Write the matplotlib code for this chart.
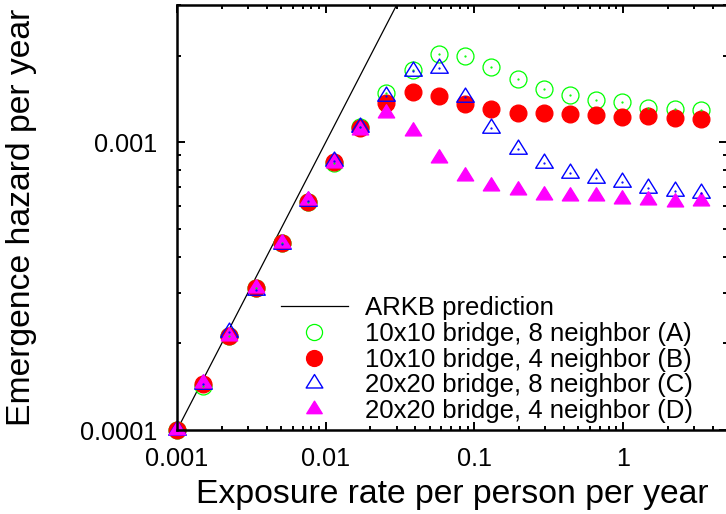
#%%
import numpy as np
import matplotlib
matplotlib.use('Agg')
from matplotlib import pyplot as plt
from matplotlib.path import Path
from matplotlib.ticker import FixedLocator, LogLocator, NullFormatter

plt.rcParams['font.family'] = ['Liberation Sans', 'DejaVu Sans']

#%%
exposure = [0.001, 0.0015, 0.00225, 0.00338, 0.00506, 0.00759, 0.0114, 0.0171,
            0.0256, 0.0384, 0.0577, 0.0865, 0.130, 0.195, 0.292, 0.438, 0.657,
            0.985, 1.48, 2.22, 3.33]

hazardA = [1.0e-4, 1.42e-4, 2.12e-4, 3.11e-4, 4.45e-4, 6.22e-4, 8.50e-4, 1.134e-3,
           1.48e-3, 1.783e-3, 2.022e-3, 2.001e-3, 1.832e-3, 1.660e-3, 1.532e-3,
           1.460e-3, 1.403e-3, 1.377e-3, 1.320e-3, 1.302e-3, 1.291e-3]
hazardB = [1.0e-4, 1.445e-4, 2.13e-4, 3.11e-4, 4.46e-4, 6.22e-4, 8.57e-4, 1.119e-3,
           1.366e-3, 1.500e-3, 1.449e-3, 1.359e-3, 1.302e-3, 1.265e-3, 1.261e-3,
           1.258e-3, 1.247e-3, 1.221e-3, 1.234e-3, 1.218e-3, 1.205e-3]
hazardC = [1.0e-4, 1.44e-4, 2.19e-4, 3.07e-4, 4.43e-4, 6.25e-4, 8.6e-4, 1.134e-3,
           1.453e-3, 1.770e-3, 1.807e-3, 1.441e-3, 1.119e-3, 9.45e-4, 8.45e-4,
           7.84e-4, 7.54e-4, 7.30e-4, 6.94e-4, 6.79e-4, 6.68e-4]
hazardD = [1.0e-4, 1.46e-4, 2.13e-4, 3.11e-4, 4.46e-4, 6.3e-4, 8.5e-4, 1.107e-3,
           1.265e-3, 1.092e-3, 8.80e-4, 7.62e-4, 7.07e-4, 6.85e-4, 6.58e-4,
           6.53e-4, 6.51e-4, 6.35e-4, 6.32e-4, 6.22e-4, 6.27e-4]

# ARKB prediction (straight line in log-log)
arkbX = [0.001, 0.03]
arkbY = [0.0001, 0.003]

labels = ['ARKB prediction',
          '10x10 bridge, 8 neighbor (A)',
          '10x10 bridge, 4 neighbor (B)',
          '20x20 bridge, 8 neighbor (C)',
          '20x20 bridge, 4 neighbor (D)']

#%%
# triangle with its centroid at the origin (like gnuplot's)
tri = Path([(0, 2/3), (-0.62, -1/3), (0.62, -1/3), (0, 2/3)],
           [Path.MOVETO, Path.LINETO, Path.LINETO, Path.CLOSEPOLY])

fig = plt.figure(figsize=(7.26, 5.14), dpi=100)
ax = fig.add_axes([177/726, 84/514, 550/726, 425/514])

ax.plot(arkbX, arkbY, color='black', lw=0.9, label=labels[0])
ax.plot(exposure, hazardA, ls='none', marker='o', ms=12.2, mfc='none', mec='#00ff00', mew=0.9, label=labels[1], clip_on=False)
ax.plot(exposure, hazardB, ls='none', marker='o', ms=12.0, mfc='#ff0000', mec='#ff0000', label=labels[2], clip_on=False)
ax.plot(exposure, hazardC, ls='none', marker=tri, ms=13.6, mfc='none', mec='#0000ff', mew=1.0, label=labels[3], clip_on=False)
ax.plot(exposure, hazardD, ls='none', marker=tri, ms=12.6, mfc='#ff00ff', mec='#ff00ff', label=labels[4], clip_on=False)
# small centre dots of the open symbols
ax.plot(exposure, hazardA, ls='none', marker='.', ms=1.2, color='#00ff00')
ax.plot(exposure, hazardC, ls='none', marker='.', ms=1.2, color='#0000ff')

ax.set_xscale('log')
ax.set_yscale('log')
ax.set_xlim(0.001, 5)
ax.set_ylim(0.0001, 0.003)

ax.xaxis.set_major_locator(FixedLocator([0.001, 0.01, 0.1, 1]))
ax.set_xticklabels(['0.001', '0.01', '0.1', '1'])
ax.yaxis.set_major_locator(FixedLocator([0.0001, 0.001]))
ax.set_yticklabels(['0.0001', '0.001'])
ax.xaxis.set_minor_locator(LogLocator(base=10, subs=np.arange(2, 10)))
ax.yaxis.set_minor_locator(LogLocator(base=10, subs=np.arange(2, 10)))
ax.xaxis.set_minor_formatter(NullFormatter())
ax.yaxis.set_minor_formatter(NullFormatter())

ax.tick_params(which='both', direction='in', top=True, right=True, labelsize=18.2, width=1.4)
ax.tick_params(which='major', length=5.5)
ax.tick_params(which='minor', length=3)
ax.tick_params(axis='x', which='major', pad=12)
ax.tick_params(axis='y', which='major', pad=14)
for s in ax.spines.values():
    s.set_linewidth(1.8)

ax.set_xlabel('Exposure rate per person per year', fontsize=24.3, labelpad=6)
ax.set_ylabel('Emergence hazard per year', fontsize=24.3, labelpad=31)

ax.legend(loc='upper left', bbox_to_anchor=(281/726, 1 - 296/514), bbox_transform=fig.transFigure,
          frameon=False, fontsize=18.5, handlelength=2.6, handletextpad=0.65,
          labelspacing=0.07, borderpad=0, borderaxespad=0, markerscale=0.95)

plt.savefig('out.png', dpi=100)
